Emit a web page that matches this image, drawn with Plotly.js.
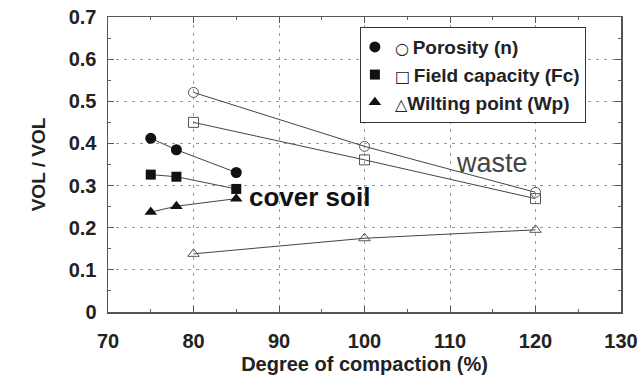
<!DOCTYPE html>
<html><head><meta charset="utf-8">
<script src="https://cdn.plot.ly/plotly-3.0.1.min.js"></script>
<style>body{margin:0;background:#fff}#c{width:643px;height:375px}</style>
</head><body><div id="c"></div>
<script>
// Cover soil
const soilX = [75, 78, 85];
const soilPorosity = [0.412, 0.385, 0.331];
const soilFc = [0.326, 0.321, 0.292];
const soilWp = [0.237, 0.251, 0.269];
// Waste
const wasteX = [80, 100, 120];
const wastePorosity = [0.521, 0.393, 0.284];
const wasteFc = [0.450, 0.361, 0.269];
const wasteWp = [0.138, 0.175, 0.195];

const openGlyphs = ['\u25CB', '\u25A1', '\u25B3'];
const seriesNames = ['Porosity (n)', 'Field capacity (Fc)', 'Wilting point (Wp)'];
const xTickVals = [70, 80, 90, 100, 110, 120, 130];
const yTickVals = [0, 0.1, 0.2, 0.3, 0.4, 0.5, 0.6, 0.7];
const yTickText = ['0', '0.1', '0.2', '0.3', '0.4', '0.5', '0.6', '0.7'];

const FAM = 'Liberation Sans, Arial, Helvetica, sans-serif';
const lineCol = '#444';
const traces = [];
function lineTrace(x, y){
  return {x:x, y:y, mode:'lines', line:{color:lineCol, width:1}, showlegend:false, hoverinfo:'skip'};
}
[[soilX, soilPorosity],[soilX, soilFc],[soilX, soilWp],[wasteX, wastePorosity],[wasteX, wasteFc],[wasteX, wasteWp]].forEach(p=>traces.push(lineTrace(p[0], p[1])));
const syms = ['circle','square','triangle-up'];
const soilSets = [soilPorosity, soilFc, soilWp];
const wasteSets = [wastePorosity, wasteFc, wasteWp];
const fillSizes = [11, 10, 11];
for (let i=0;i<3;i++){
  traces.push({x:soilX, y:soilSets[i], mode:'markers',
    name:'<span style="font-family:DejaVu Sans;font-size:16px;font-weight:normal">' + openGlyphs[i] + '</span>' + (i===2 ? '' : '\u2009') + seriesNames[i],
    marker:{symbol:syms[i], size:fillSizes[i], color:'#111'}, showlegend:true});
}
for (let i=0;i<3;i++){
  traces.push({x:wasteX, y:wasteSets[i], mode:'markers', showlegend:false,
    marker:{symbol:syms[i]+'-open', size:10, color:'#555', line:{width:1}}});
}

const tickFont = {family:FAM, size:20, weight:'bold', color:'#222'};
const layout = {
  width:643, height:375,
  margin:{l:108, r:22, t:17, b:63},
  paper_bgcolor:'#fff', plot_bgcolor:'#fff',
  font:{family:FAM, color:'#222'},
  showlegend:true,
  legend:{x:0.491, y:0.966, xanchor:'left', yanchor:'top', bordercolor:'#333', borderwidth:1,
    bgcolor:'#fff', font:{family:FAM, size:19, color:'#222', weight:'bold'},
    tracegroupgap:0, itemwidth:30, indentation:-6},
  xaxis:{range:[70,130], tickvals:xTickVals, ticktext:xTickVals.map(String),
    ticks:'inside', ticklen:6, tickcolor:'#555', showline:true, linecolor:'#555', linewidth:1.5, mirror:'ticks',
    showgrid:true, gridcolor:'#999', griddash:'3px,5px', gridwidth:1, zeroline:false,
    minor:{dtick:5, tick0:70, ticks:'inside', ticklen:3, tickcolor:'#666', showgrid:false},
    tickfont:tickFont, ticklabelstandoff:10,
    title:{text:'Degree of compaction (%)', font:{family:FAM, size:20, weight:'bold', color:'#222'}, standoff:8}},
  yaxis:{range:[0,0.7], tickvals:yTickVals, ticktext:yTickText,
    ticks:'inside', ticklen:6, tickcolor:'#555', showline:true, linecolor:'#555', linewidth:1.5, mirror:'ticks',
    showgrid:true, gridcolor:'#999', griddash:'3px,5px', gridwidth:1, zeroline:false,
    minor:{dtick:0.05, tick0:0, ticks:'inside', ticklen:3, tickcolor:'#666', showgrid:false},
    tickfont:tickFont, ticklabelstandoff:6,
    title:{text:'VOL / VOL', font:{family:FAM, size:19, weight:'bold', color:'#222'}, standoff:18}},
  annotations:[
    {x:86.3, y:0.272, xref:'x', yref:'y', xanchor:'left', yanchor:'middle', showarrow:false,
      text:'cover soil', font:{family:FAM, size:26, weight:'bold', color:'#111'}},
    {x:110.5, y:0.354, xref:'x', yref:'y', xanchor:'left', yanchor:'middle', showarrow:false,
      text:'waste', font:{family:FAM, size:27, color:'#444'}}
  ]
};
Plotly.newPlot('c', traces, layout, {displayModeBar:false, staticPlot:true});
</script></body></html>
